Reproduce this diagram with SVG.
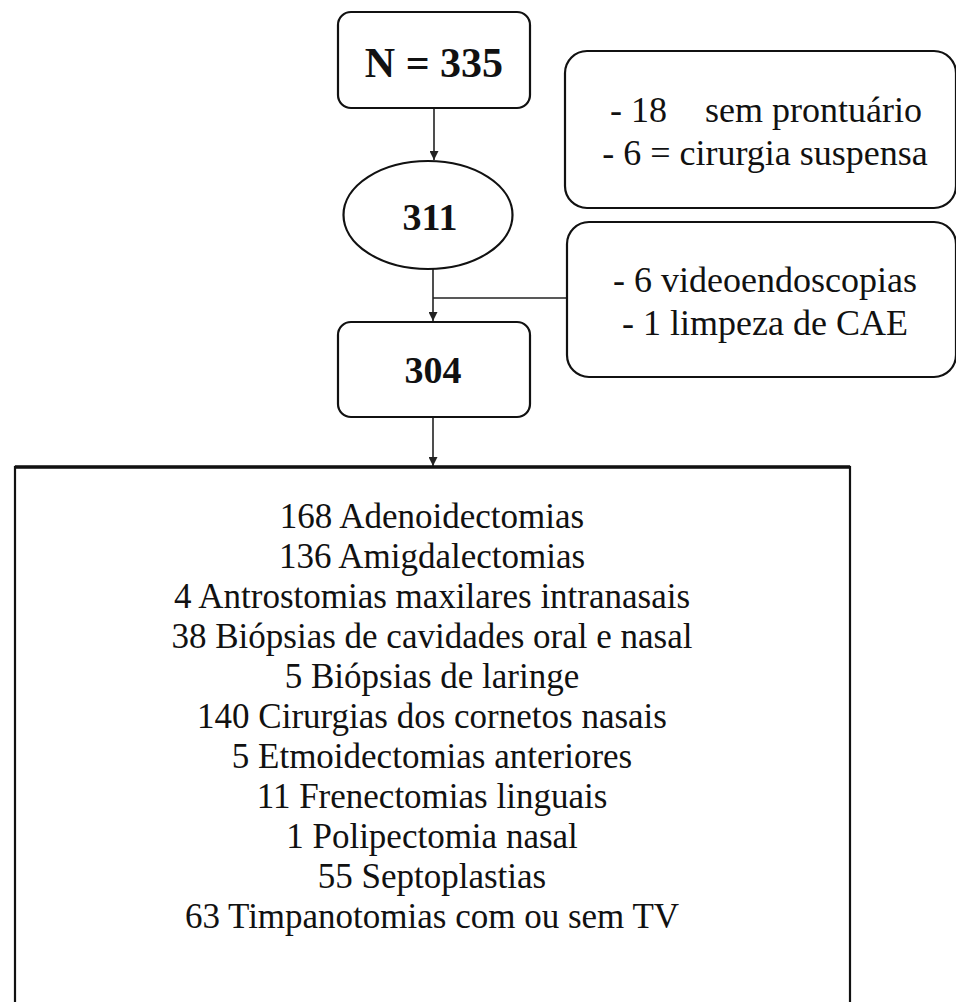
<svg xmlns="http://www.w3.org/2000/svg" width="956" height="1002" viewBox="0 0 956 1002">
<style>
.box{fill:#fff;stroke:#111;stroke-width:2.2}
.big{fill:#fff;stroke:#111;stroke-width:2.2}
.con{fill:none;stroke:#222;stroke-width:1.6}
.b{font-family:"Liberation Serif","Times New Roman",serif;font-weight:bold;fill:#111;text-anchor:middle}
.t{font-family:"Liberation Serif","Times New Roman",serif;fill:#111;font-size:36px}
.l{font-family:"Liberation Serif","Times New Roman",serif;fill:#111;font-size:35px;text-anchor:middle}
</style>
<defs>
<marker id="ah" viewBox="0 0 10 10" refX="10" refY="5" markerWidth="9" markerHeight="9" markerUnits="userSpaceOnUse" orient="auto">
<path d="M0,0 L10,5 L0,10 z" fill="#222"/>
</marker>
</defs>
<rect width="956" height="1002" fill="#fff"/>
<g id="connectors">
<line class="con" x1="434" y1="108" x2="434" y2="160" marker-end="url(#ah)"/>
<line class="con" x1="433" y1="269" x2="433" y2="321" marker-end="url(#ah)"/>
<line class="con" x1="433" y1="298" x2="567" y2="298"/>
<line class="con" x1="433" y1="417" x2="433" y2="466" marker-end="url(#ah)"/>
</g>
<g id="n335">
<rect class="box" x="338" y="12" width="192" height="96" rx="13"/>
<text class="b" x="434" y="77" font-size="42">N = 335</text>
</g>
<g id="n311">
<ellipse class="box" cx="428" cy="215" rx="84.5" ry="54"/>
<text class="b" x="430" y="230" font-size="38">311</text>
</g>
<g id="n304">
<rect class="box" x="338" y="322" width="192" height="95" rx="13"/>
<text class="b" x="433" y="383" font-size="38">304</text>
</g>
<g id="excl1">
<rect class="box" x="565" y="51" width="391" height="157" rx="22"/>
<text class="t"><tspan x="610" y="122">- 18</tspan><tspan x="705" y="122">sem prontuário</tspan></text>
<text class="t" x="765" y="165" text-anchor="middle">- 6 = cirurgia suspensa</text>
</g>
<g id="excl2">
<rect class="box" x="567" y="222" width="389" height="155" rx="22"/>
<text class="t" x="765" y="292" text-anchor="middle">- 6 videoendoscopias</text>
<text class="t" x="765" y="335" text-anchor="middle">- 1 limpeza de CAE</text>
</g>
<g id="procedures">
<rect class="big" x="15" y="467" width="835" height="560"/>
<line x1="15" y1="467" x2="850" y2="467" stroke="#111" stroke-width="3.5"/>
<text class="l" x="432" y="528">168 Adenoidectomias</text>
<text class="l" x="432" y="568">136 Amigdalectomias</text>
<text class="l" x="432" y="608">4 Antrostomias maxilares intranasais</text>
<text class="l" x="432" y="648">38 Biópsias de cavidades oral e nasal</text>
<text class="l" x="432" y="688">5 Biópsias de laringe</text>
<text class="l" x="432" y="728">140 Cirurgias dos cornetos nasais</text>
<text class="l" x="432" y="768">5 Etmoidectomias anteriores</text>
<text class="l" x="432" y="808">11 Frenectomias linguais</text>
<text class="l" x="432" y="848">1 Polipectomia nasal</text>
<text class="l" x="432" y="888">55 Septoplastias</text>
<text class="l" x="432" y="928">63 Timpanotomias com ou sem TV</text>
</g>
</svg>
